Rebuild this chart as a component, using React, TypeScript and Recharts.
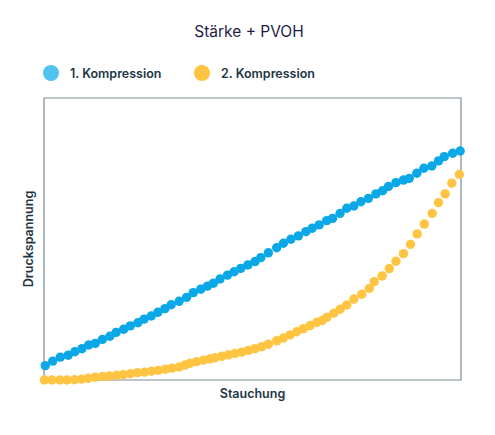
import React from 'react';
import { ScatterChart, Scatter, XAxis, YAxis, ReferenceArea } from 'recharts';

const TITLE = 'Stärke + PVOH';
const X_LABEL = 'Stauchung';
const Y_LABEL = 'Druckspannung';
const SERIES_NAMES = ['1. Kompression', '2. Kompression'];

// 1. Kompression (arbitrary units 0-100)
const firstX = [
  0.3, 2.1, 3.9, 5.8, 7.4, 9.1, 10.7, 12.3, 14.0, 15.8, 17.3, 19.1, 20.7, 22.5, 24.0,
  25.7, 27.3, 29.0, 30.5, 32.4, 34.2, 35.8, 37.6, 39.2, 40.6, 42.2, 44.0, 45.6, 47.2, 48.9,
  50.6, 52.0, 53.8, 55.8, 57.4, 59.2, 61.0, 62.8, 64.3, 66.0, 67.8, 69.2, 71.0, 72.6, 74.3,
  76.0, 77.8, 79.6, 81.2, 82.6, 84.4, 86.2, 87.6, 89.4, 91.1, 93.0, 94.6, 96.0, 98.0, 99.8,
];
const firstY = [
  5.1, 6.7, 8.1, 8.8, 10.0, 11.1, 12.4, 13.0, 14.4, 15.5, 16.9, 18.0, 19.2, 20.3, 21.6,
  22.7, 24.0, 25.3, 26.7, 27.9, 29.3, 31.0, 32.2, 33.3, 34.3, 35.8, 37.2, 38.4, 39.6, 40.8,
  42.0, 43.4, 45.1, 46.9, 48.5, 49.9, 51.1, 52.6, 53.8, 55.0, 56.5, 57.3, 59.1, 60.9, 61.7,
  63.2, 64.4, 66.0, 67.1, 68.6, 70.0, 70.9, 71.5, 73.3, 75.1, 75.9, 77.7, 79.2, 80.4, 81.2,
];

// 2. Kompression
const secondX = [
  0.1, 1.9, 3.8, 5.5, 7.3, 9.0, 10.6, 12.3, 14.1, 15.7, 17.4, 19.0, 20.7, 22.4, 24.1,
  25.7, 27.4, 29.1, 30.7, 32.4, 33.8, 35.0, 36.6, 38.2, 39.8, 41.0, 42.6, 44.2, 45.8, 47.4,
  49.0, 50.6, 52.2, 53.8, 55.8, 57.4, 59.0, 60.6, 62.2, 63.8, 65.4, 66.7, 67.8, 69.5, 71.0,
  72.6, 74.3, 76.2, 78.0, 79.2, 81.1, 82.8, 84.4, 86.2, 87.9, 89.5, 91.2, 93.1, 94.6, 96.2,
  97.8, 99.6,
];
const secondY = [
  0, 0, 0, 0, 0.1, 0.3, 0.6, 1.0, 1.3, 1.4, 1.7, 1.9, 2.2, 2.6, 2.8,
  3.1, 3.4, 3.8, 4.2, 4.6, 5.3, 5.9, 6.5, 7.0, 7.5, 7.9, 8.4, 8.9, 9.4, 9.9,
  10.5, 11.1, 11.8, 12.7, 13.9, 14.9, 16.0, 17.1, 18.2, 19.3, 20.4, 21.1, 22.2, 23.7, 25.1,
  26.6, 28.7, 30.4, 32.5, 34.9, 36.9, 39.5, 42.1, 44.8, 48.1, 51.8, 55.3, 59.1, 62.9, 66.0,
  69.8, 72.9,
];

const first = firstX.map((x, i) => ({ x, y: firstY[i] }));
const second = secondX.map((x, i) => ({ x, y: secondY[i] }));

const BLUE = '#0aa8e6';
const YELLOW = '#ffc542';
const LEGEND_COLORS = ['#4fc2f0', '#ffc542'];
const INK = '#1d3645';
const FONT = 'Inter, "Open Sans", sans-serif';

const Dot = (props: any) => <circle cx={props.cx} cy={props.cy} r={4.7} fill={props.fill} />;

export default function App() {
  return (
    <div style={{ position: 'absolute', left: 0, top: 0, width: 495, height: 435, background: '#fff' }}>
      <div
        style={{
          position: 'absolute', top: 22, left: 0, width: 498, textAlign: 'center',
          fontFamily: FONT, fontSize: 15.5, color: '#1d1d45',
        }}
      >
        {TITLE}
      </div>
      <div style={{ position: 'absolute', top: 65, left: 43, display: 'flex', alignItems: 'center', fontFamily: FONT }}>
        {SERIES_NAMES.map((name, i) => (
          <div key={name} style={{ display: 'flex', alignItems: 'center', width: 151 }}>
            <span
              style={{ width: 16, height: 16, borderRadius: 8, background: LEGEND_COLORS[i], marginRight: 11 }}
            />
            <span style={{ fontSize: 12.5, fontWeight: 600, color: INK }}>{name}</span>
          </div>
        ))}
      </div>
      <ScatterChart width={495} height={435} margin={{ top: 98, right: 34, bottom: 55, left: 44 }}>
        <XAxis type="number" dataKey="x" domain={[0, 100]} hide />
        <YAxis type="number" dataKey="y" domain={[0, 100]} hide />
        <ReferenceArea x1={0} x2={100} y1={0} y2={100} fill="none" stroke="#7d8b93" strokeWidth={1.2} />
        <Scatter name={SERIES_NAMES[1]} data={second} fill={YELLOW} shape={Dot} isAnimationActive={false} />
        <Scatter name={SERIES_NAMES[0]} data={first} fill={BLUE} shape={Dot} isAnimationActive={false} />
      </ScatterChart>
      <div
        style={{
          position: 'absolute', top: 386, left: 44, width: 417, textAlign: 'center',
          fontFamily: FONT, fontSize: 12.5, fontWeight: 600, color: INK,
        }}
      >
        {X_LABEL}
      </div>
      <div
        style={{
          position: 'absolute', left: 28, top: 239, transform: 'translate(-50%, -50%) rotate(-90deg)',
          fontFamily: FONT, fontSize: 12.5, fontWeight: 600, color: INK, whiteSpace: 'nowrap',
        }}
      >
        {Y_LABEL}
      </div>
    </div>
  );
}
